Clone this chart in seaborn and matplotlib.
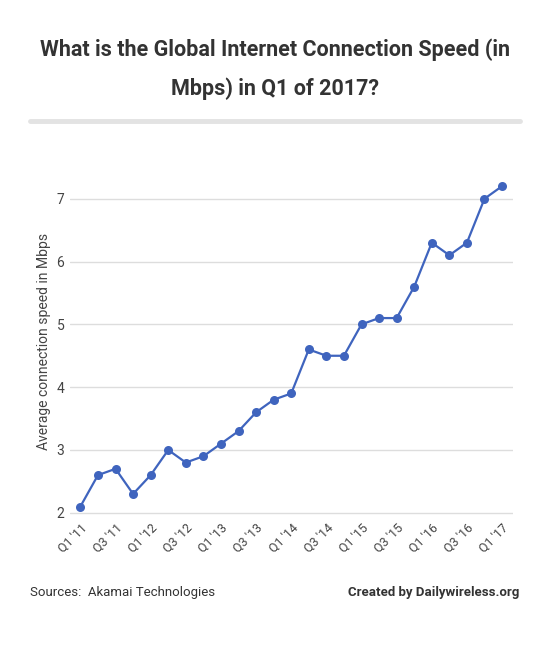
import matplotlib
matplotlib.use("Agg")
import matplotlib.pyplot as plt
import seaborn as sns
import pandas as pd

quarters = ["Q1 '11","Q2 '11","Q3 '11","Q4 '11","Q1 '12","Q2 '12","Q3 '12","Q4 '12",
            "Q1 '13","Q2 '13","Q3 '13","Q4 '13","Q1 '14","Q2 '14","Q3 '14","Q4 '14",
            "Q1 '15","Q2 '15","Q3 '15","Q4 '15","Q1 '16","Q2 '16","Q3 '16","Q4 '16","Q1 '17"]
speeds = [2.1,2.6,2.7,2.3,2.6,3.0,2.8,2.9,3.1,3.3,3.6,3.8,3.9,4.6,4.5,4.5,
          5.0,5.1,5.1,5.6,6.3,6.1,6.3,7.0,7.2]
yticks = [2,3,4,5,6,7]

sns.set_theme(style="white")
plt.rcParams['font.family'] = ['Roboto', 'DejaVu Sans']
df = pd.DataFrame({"q": range(len(quarters)), "v": speeds})

fig = plt.figure(figsize=(5.5, 6.64), dpi=100)
ax = fig.add_axes([0.127, 0.223, 0.805, 0.525])
color = "#3f64be"
sns.lineplot(data=df, x="q", y="v", ax=ax, color=color, lw=1.6, marker="o",
             markersize=6.5, markeredgewidth=0, markerfacecolor=color)
ax.set_xlim(-0.6, len(quarters) - 0.4)
ax.set_ylim(1.95, 7.5)
ax.set_yticks(yticks)
ax.set_yticklabels([str(t) for t in yticks], fontsize=10, color="#444")
ax.set_xticks(range(0, len(quarters), 2))
ax.set_xticklabels(quarters[::2], rotation=45, ha="right", rotation_mode="anchor",
                   fontsize=9, color="#444")
ax.tick_params(axis="both", length=0, pad=4)
ax.yaxis.grid(True, color="#dddddd", lw=1)
for s in ax.spines.values():
    s.set_visible(False)
ax.set_xlabel("")
ax.set_ylabel("Average connection speed in Mbps", fontsize=10, color="#444")

fig.text(0.5, 0.915, "What is the Global Internet Connection Speed (in", ha="center",
         fontsize=15.5, fontweight="bold", color="#333")
fig.text(0.5, 0.857, "Mbps) in Q1 of 2017?", ha="center", fontsize=15.5,
         fontweight="bold", color="#333")
fig.add_artist(plt.Line2D([0.055, 0.945], [0.818, 0.818], color="#e3e3e3", lw=3.5))
fig.text(0.055, 0.102, "Sources:  Akamai Technologies", fontsize=9.5, color="#333")
fig.text(0.945, 0.102, "Created by Dailywireless.org", ha="right", fontsize=9.5,
         fontweight="bold", color="#333")
fig.savefig("out.png", dpi=100, facecolor="white")
